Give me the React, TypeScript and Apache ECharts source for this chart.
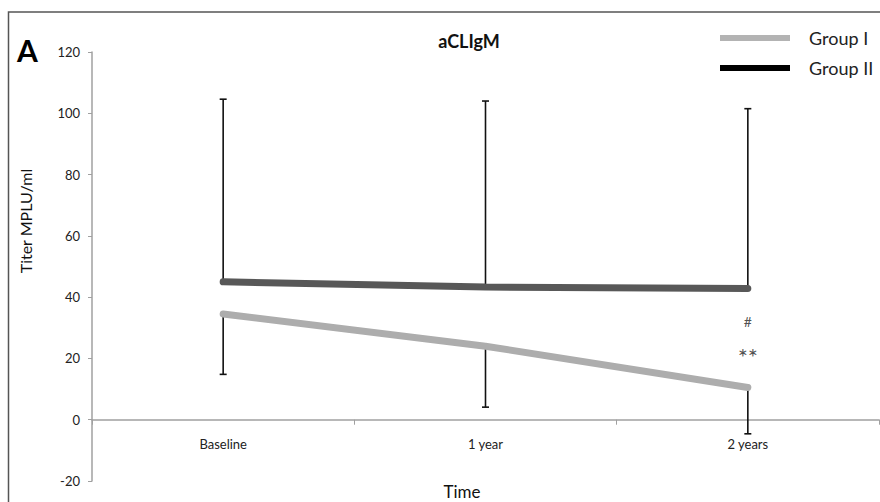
import React, { useEffect, useRef } from "react";
import * as echarts from "echarts";

const categories = ["Baseline", "1 year", "2 years"];
const group1 = [34.5, 24, 10.5];
const group2 = [45, 43.3, 42.8];
const group1Lower = [14.8, 4.1, -4.6];
const group2Upper = [104.6, 104, 101.5];
const yTicks = { min: -20, max: 120, interval: 20 };
const annotations = [
  { cat: "2 years", value: 32, text: "#", size: 14 },
  { cat: "2 years", value: 20.5, text: "**", size: 24 },
];

const FONT = "Lato, 'Open Sans', sans-serif";

export default function App() {
  const ref = useRef<HTMLDivElement>(null);
  useEffect(() => {
    if (!ref.current) return;
    const chart = echarts.init(ref.current, null, { renderer: "svg" });
    const errRender = (params: any, api: any) => {
      const x = api.value(0);
      const v = api.value(1);
      const e = api.value(2);
      const p1 = api.coord([x, v]);
      const p2 = api.coord([x, e]);
      return {
        type: "group",
        children: [
          { type: "line", shape: { x1: p1[0], y1: p1[1], x2: p2[0], y2: p2[1] }, style: { stroke: "#111", lineWidth: 1.6 } },
          { type: "line", shape: { x1: p2[0] - 3.5, y1: p2[1], x2: p2[0] + 3.5, y2: p2[1] }, style: { stroke: "#111", lineWidth: 1.6 } },
        ],
      };
    };
    const gridTop = 52;
    const gridBottom = 21;
    const plotH = 502 - gridTop - gridBottom;
    const zeroOffset = -plotH * (0 - yTicks.min) / (yTicks.max - yTicks.min);
    chart.setOption({
      animation: false,
      backgroundColor: "#fff",
      title: {
        text: "aCLIgM",
        left: 464,
        top: 27,
        textAlign: "center",
        textStyle: { fontFamily: FONT, fontSize: 18, fontWeight: "bold", color: "#111" },
      },
      legend: {
        orient: "vertical",
        left: 715,
        top: 24,
        itemWidth: 70,
        itemHeight: 6,
        itemGap: 12,
        icon: "rect",
        textStyle: { fontFamily: "'Liberation Sans Narrow', Lato, sans-serif", fontSize: 18, color: "#222", padding: [0, 0, 0, 14] },
        data: [
          { name: "Group I", itemStyle: { color: "#b3b3b3" } },
          { name: "Group II", itemStyle: { color: "#000" } },
        ],
      },
      graphic: [
        { type: "rect", shape: { x: 8.5, y: 12, width: 900, height: 600 }, style: { fill: "none", stroke: "#555", lineWidth: 1.5 }, silent: true },
        { type: "text", x: 17, y: 35, style: { text: "A", font: `bold 30px ${FONT}`, fill: "#000" } },
        { type: "text", x: 25, y: 221, rotation: Math.PI / 2, style: { text: "Titer MPLU/ml", font: `16px ${FONT}`, fill: "#111", align: "center", verticalAlign: "middle" } },
        { type: "text", x: 462, y: 491, style: { text: "Time", font: `17px ${FONT}`, fill: "#111", align: "center", verticalAlign: "middle" } },
      ],
      grid: { left: 92, right: 1, top: gridTop, bottom: gridBottom, containLabel: false, outerBoundsMode: "none" },
      xAxis: {
        type: "category",
        data: categories,
        boundaryGap: true,
        offset: zeroOffset,
        axisLine: { onZero: false, lineStyle: { color: "#a0a0a0", width: 1.5 } },
        axisTick: { show: true, length: 5, lineStyle: { color: "#a0a0a0" } },
        axisLabel: { margin: 18, fontFamily: FONT, fontSize: 13, color: "#222" },
        splitLine: { show: false },
      },
      yAxis: {
        type: "value",
        min: yTicks.min,
        max: yTicks.max,
        interval: yTicks.interval,
        axisLine: { show: true, lineStyle: { color: "#a0a0a0", width: 1.5 } },
        axisTick: { show: true, length: 4, lineStyle: { color: "#a0a0a0" } },
        axisLabel: { margin: 12, fontFamily: FONT, fontSize: 13, color: "#222" },
        splitLine: { show: false },
      },
      series: [
        {
          type: "custom",
          name: "errII",
          renderItem: errRender,
          data: categories.map((c, i) => [i, group2[i], group2Upper[i]]),
          encode: { x: 0, y: [1, 2] },
          z: 1,
          silent: true,
        },
        {
          type: "custom",
          name: "errI",
          renderItem: errRender,
          data: categories.map((c, i) => [i, group1[i], group1Lower[i]]),
          encode: { x: 0, y: [1, 2] },
          z: 1,
          silent: true,
        },
        {
          type: "line",
          name: "Group I",
          data: group1,
          showSymbol: false,
          symbol: "none",
          lineStyle: { color: "#adadad", width: 7, cap: "round" },
          itemStyle: { color: "#b3b3b3" },
          z: 3,
        },
        {
          type: "line",
          name: "Group II",
          data: group2,
          showSymbol: false,
          symbol: "none",
          lineStyle: { color: "#585858", width: 7, cap: "round" },
          itemStyle: { color: "#000" },
          z: 3,
        },
        {
          type: "scatter",
          name: "annot",
          symbolSize: 0,
          data: annotations.map((a) => ({ value: [a.cat, a.value], label: { formatter: a.text, fontSize: a.size } })),
          label: { show: true, position: "inside", fontFamily: FONT, color: "#222" },
          silent: true,
          z: 4,
        },
      ],
    });
    return () => chart.dispose();
  }, []);
  return <div ref={ref} style={{ position: "fixed", left: 0, top: 0, width: 880, height: 502 }} />;
}
